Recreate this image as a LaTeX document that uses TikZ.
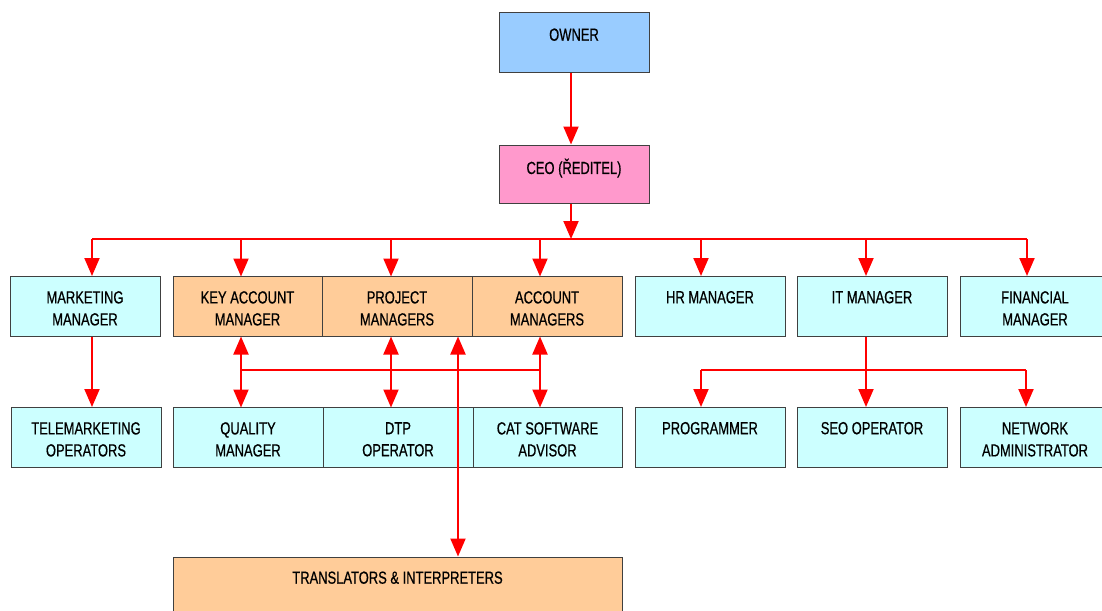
\documentclass[tikz,border=0pt]{standalone}
\usepackage{fontspec}
\setmainfont{Liberation Sans}[FakeStretch=0.74,FakeBold=0.6]
\usetikzlibrary{arrows.meta}
\definecolor{ownerblue}{HTML}{99CCFF}
\definecolor{ceopink}{HTML}{FF99CC}
\definecolor{orng}{HTML}{FFCC99}
\definecolor{cyanbox}{HTML}{CCFFFF}
\definecolor{bordergray}{HTML}{404040}
\tikzset{
  box/.style={draw=bordergray, line width=1pt, rectangle, minimum height=60pt, inner sep=0pt},
  lbl/.style={anchor=north, align=center, inner sep=0pt, font=\fontsize{17.5pt}{22pt}\selectfont, execute at begin node={\rule{0pt}{13pt}}},
  conn/.style={draw=red, line width=2pt},
  tip/.style={-{Triangle[width=15pt,length=18pt]}},
  dtip/.style={{Triangle[width=15pt,length=18pt]}-{Triangle[width=15pt,length=18pt]}},
}
\begin{document}
\begin{tikzpicture}[x=1pt,y=-1pt]
\clip (0,0) rectangle (1102,610);
\fill[white] (0,0) rectangle (1102,610);
% top
\node[box, fill=ownerblue, minimum width=150pt, minimum height=59pt] (owner) at (574,42.5) {};
\node[box, fill=ceopink, minimum width=150pt, minimum height=58pt] (ceo) at (574,174) {};
% row 1
\node[box, fill=cyanbox, minimum width=150pt] (mkt) at (85,306.5) {};
\node[box, fill=orng, minimum width=149pt] (kam) at (247.5,306.5) {};
\node[box, fill=orng, minimum width=150pt] (pm) at (397,306.5) {};
\node[box, fill=orng, minimum width=150pt] (am) at (547,306.5) {};
\node[box, fill=cyanbox, minimum width=150pt] (hr) at (710,306.5) {};
\node[box, fill=cyanbox, minimum width=150pt] (it) at (872,306.5) {};
\node[box, fill=cyanbox, minimum width=150pt] (fin) at (1035,306.5) {};
% row 2
\node[box, fill=cyanbox, minimum width=150pt] (tele) at (86,437.5) {};
\node[box, fill=cyanbox, minimum width=150pt] (qm) at (248,437.5) {};
\node[box, fill=cyanbox, minimum width=150pt] (dtp) at (398,437.5) {};
\node[box, fill=cyanbox, minimum width=149pt] (cat) at (547.5,437.5) {};
\node[box, fill=cyanbox, minimum width=150pt] (prog) at (710,437.5) {};
\node[box, fill=cyanbox, minimum width=150pt] (seo) at (872,437.5) {};
\node[box, fill=cyanbox, minimum width=150pt] (net) at (1035,437.5) {};
% translators
\node[box, fill=orng, minimum width=449pt, minimum height=80pt] (tr) at (397.5,597) {};
% labels
\node[lbl] (lowner) at ([yshift=-15pt]owner.north) {OWNER};
\node[lbl] (lceo) at ([yshift=-14pt]ceo.north) {CEO (ŘEDITEL)};
\node[lbl] (lmkt) at ([yshift=-15pt]mkt.north) {MARKETING\\MANAGER};
\node[lbl] (lkam) at ([yshift=-15pt]kam.north) {KEY ACCOUNT\\MANAGER};
\node[lbl] (lpm) at ([yshift=-15pt]pm.north) {PROJECT\\MANAGERS};
\node[lbl] (lam) at ([yshift=-15pt]am.north) {ACCOUNT\\MANAGERS};
\node[lbl] (lhr) at ([yshift=-14pt]hr.north) {HR MANAGER};
\node[lbl] (lit) at ([yshift=-14pt]it.north) {IT MANAGER};
\node[lbl] (lfin) at ([yshift=-15pt]fin.north) {FINANCIAL\\MANAGER};
\node[lbl] (ltele) at ([yshift=-15pt]tele.north) {TELEMARKETING\\OPERATORS};
\node[lbl] (lqm) at ([yshift=-15pt]qm.north) {QUALITY\\MANAGER};
\node[lbl] (ldtp) at ([yshift=-15pt]dtp.north) {DTP\\OPERATOR};
\node[lbl] (lcat) at ([yshift=-15pt]cat.north) {CAT SOFTWARE\\ADVISOR};
\node[lbl] (lprog) at ([yshift=-14pt]prog.north) {PROGRAMMER};
\node[lbl] (lseo) at ([yshift=-14pt]seo.north) {SEO OPERATOR};
\node[lbl] (lnet) at ([yshift=-15pt]net.north) {NETWORK\\ADMINISTRATOR};
\node[lbl] (ltr) at ([yshift=-14pt]tr.north) {TRANSLATORS \& INTERPRETERS};
% coordinates
\coordinate (bus) at (571,239);
\coordinate (busL) at (92,239);
\coordinate (busR) at (1027,239);
\coordinate (midL) at (241,370);
\coordinate (midR) at (540,370);
\coordinate (itbus) at (866,370);
\coordinate (itL) at (701,370);
\coordinate (itR) at (1026,370);
% connectors
\draw[conn, tip] (owner.south -| bus) -- (ceo.north -| bus);
\draw[conn, tip] (ceo.south -| bus) -- (bus);
\draw[conn] (busL) -- (busR);
\draw[conn, tip] (busL) -- (busL |- mkt.north);
\draw[conn, tip] (241,239) -- (241,276.5);
\draw[conn, tip] (391,239) -- (391,276.5);
\draw[conn, tip] (540,239) -- (540,276.5);
\draw[conn, tip] (701,239) -- (hr.north -| 701,0);
\draw[conn, tip] (866,239) -- (it.north -| 866,0);
\draw[conn, tip] (busR) -- (fin.north -| busR);
\draw[conn, tip] (92,336.5) -- (tele.north -| 92,0);
\draw[conn] (midL) -- (midR);
\draw[conn, dtip] (241,336.5) -- (241,407.5);
\draw[conn, dtip] (391,336.5) -- (391,407.5);
\draw[conn, dtip] (540,336.5) -- (540,407.5);
\draw[conn, dtip] (458,336.5) -- (tr.north -| 458,0);
\draw[conn] (it.south -| itbus) -- (itbus);
\draw[conn] (itL) -- (itR);
\draw[conn, tip] (itL) -- (prog.north -| itL);
\draw[conn, tip] (itbus) -- (seo.north -| itbus);
\draw[conn, tip] (itR) -- (net.north -| itR);
\end{tikzpicture}
\end{document}
